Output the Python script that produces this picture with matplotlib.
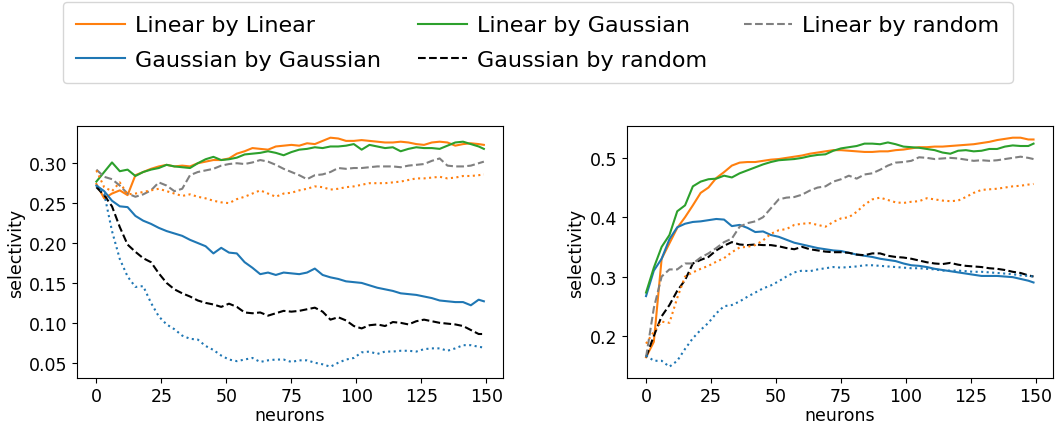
import numpy as np
import matplotlib
matplotlib.use('Agg')
from matplotlib import pyplot as plt

# neuron counts sampled every 3 neurons, last one at 149
neurons = list(range(0, 150, 3)) + [149]

# ---- left panel ----
left_lin_lin = [0.274, 0.256, 0.262, 0.266, 0.260, 0.285, 0.289, 0.293, 0.296, 0.298,
                0.296, 0.297, 0.296, 0.300, 0.302, 0.304, 0.304, 0.306, 0.312, 0.315,
                0.319, 0.318, 0.317, 0.321, 0.322, 0.323, 0.322, 0.325, 0.324, 0.328,
                0.332, 0.331, 0.328, 0.328, 0.329, 0.328, 0.327, 0.326, 0.326, 0.327,
                0.326, 0.324, 0.323, 0.326, 0.327, 0.326, 0.322, 0.324, 0.325, 0.324,
                0.323]
left_gau_gau = [0.272, 0.265, 0.253, 0.246, 0.245, 0.234, 0.228, 0.224, 0.219, 0.215,
                0.212, 0.209, 0.204, 0.200, 0.196, 0.187, 0.194, 0.188, 0.187, 0.176,
                0.169, 0.161, 0.163, 0.160, 0.163, 0.162, 0.161, 0.163, 0.168, 0.160,
                0.157, 0.155, 0.152, 0.151, 0.150, 0.147, 0.144, 0.142, 0.140, 0.137,
                0.136, 0.135, 0.133, 0.131, 0.128, 0.127, 0.126, 0.126, 0.122, 0.129,
                0.127]
left_lin_gau = [0.277, 0.289, 0.301, 0.290, 0.292, 0.284, 0.289, 0.292, 0.294, 0.298,
                0.296, 0.295, 0.294, 0.300, 0.305, 0.308, 0.304, 0.305, 0.307, 0.311,
                0.312, 0.313, 0.315, 0.313, 0.310, 0.314, 0.317, 0.318, 0.320, 0.319,
                0.321, 0.321, 0.322, 0.324, 0.317, 0.323, 0.321, 0.319, 0.320, 0.315,
                0.318, 0.320, 0.319, 0.319, 0.318, 0.322, 0.326, 0.327, 0.324, 0.321,
                0.318]
left_gau_rnd = [0.270, 0.260, 0.246, 0.220, 0.198, 0.189, 0.181, 0.176, 0.162, 0.150,
                0.142, 0.137, 0.133, 0.128, 0.125, 0.123, 0.120, 0.124, 0.120, 0.113,
                0.112, 0.113, 0.109, 0.112, 0.115, 0.114, 0.115, 0.117, 0.119, 0.114,
                0.104, 0.107, 0.103, 0.096, 0.093, 0.097, 0.098, 0.096, 0.101, 0.100,
                0.098, 0.102, 0.104, 0.102, 0.100, 0.099, 0.098, 0.096, 0.091, 0.086,
                0.086]
left_lin_rnd = [0.292, 0.283, 0.280, 0.272, 0.262, 0.258, 0.261, 0.266, 0.276, 0.272,
                0.265, 0.268, 0.285, 0.289, 0.291, 0.293, 0.297, 0.299, 0.300, 0.299,
                0.301, 0.304, 0.302, 0.298, 0.293, 0.289, 0.285, 0.280, 0.285, 0.286,
                0.289, 0.294, 0.293, 0.294, 0.294, 0.295, 0.296, 0.296, 0.296, 0.295,
                0.297, 0.298, 0.299, 0.303, 0.306, 0.297, 0.296, 0.296, 0.297, 0.300,
                0.302]
left_lin_dot = [0.291, 0.270, 0.265, 0.276, 0.261, 0.262, 0.264, 0.266, 0.268, 0.265,
                0.262, 0.259, 0.261, 0.258, 0.256, 0.253, 0.251, 0.250, 0.255, 0.258,
                0.262, 0.266, 0.262, 0.258, 0.262, 0.263, 0.266, 0.268, 0.271, 0.270,
                0.267, 0.268, 0.270, 0.271, 0.273, 0.275, 0.275, 0.275, 0.276, 0.277,
                0.279, 0.281, 0.281, 0.282, 0.283, 0.281, 0.282, 0.284, 0.284, 0.285,
                0.286]
left_gau_dot = [0.272, 0.262, 0.215, 0.180, 0.158, 0.145, 0.146, 0.125, 0.108, 0.098,
                0.092, 0.084, 0.080, 0.079, 0.071, 0.066, 0.059, 0.054, 0.052, 0.054,
                0.056, 0.051, 0.053, 0.054, 0.054, 0.051, 0.053, 0.053, 0.050, 0.048,
                0.045, 0.050, 0.054, 0.056, 0.063, 0.064, 0.061, 0.064, 0.064, 0.065,
                0.065, 0.064, 0.067, 0.068, 0.068, 0.065, 0.068, 0.072, 0.072, 0.070,
                0.069]

# ---- right panel ----
right_lin_lin = [0.164, 0.190, 0.330, 0.356, 0.382, 0.400, 0.420, 0.441, 0.450, 0.466,
                 0.476, 0.487, 0.492, 0.493, 0.493, 0.495, 0.497, 0.498, 0.500, 0.502,
                 0.504, 0.507, 0.509, 0.511, 0.513, 0.513, 0.512, 0.511, 0.510, 0.510,
                 0.511, 0.511, 0.513, 0.514, 0.516, 0.518, 0.518, 0.519, 0.519, 0.520,
                 0.521, 0.522, 0.523, 0.525, 0.527, 0.530, 0.532, 0.534, 0.534, 0.531,
                 0.531]
right_gau_gau = [0.267, 0.310, 0.330, 0.363, 0.383, 0.389, 0.392, 0.393, 0.395, 0.397,
                 0.396, 0.385, 0.387, 0.382, 0.375, 0.376, 0.370, 0.367, 0.362, 0.357,
                 0.354, 0.351, 0.348, 0.346, 0.344, 0.343, 0.340, 0.337, 0.335, 0.333,
                 0.330, 0.328, 0.326, 0.322, 0.319, 0.318, 0.316, 0.313, 0.311, 0.309,
                 0.307, 0.305, 0.303, 0.301, 0.301, 0.301, 0.300, 0.299, 0.296, 0.293,
                 0.290]
right_lin_gau = [0.273, 0.315, 0.350, 0.370, 0.410, 0.420, 0.452, 0.460, 0.464, 0.465,
                 0.470, 0.467, 0.474, 0.479, 0.484, 0.489, 0.493, 0.496, 0.497, 0.498,
                 0.500, 0.503, 0.505, 0.506, 0.512, 0.516, 0.518, 0.520, 0.524, 0.524,
                 0.523, 0.526, 0.523, 0.519, 0.518, 0.517, 0.515, 0.513, 0.509, 0.507,
                 0.512, 0.513, 0.511, 0.512, 0.515, 0.515, 0.519, 0.521, 0.520, 0.520,
                 0.524]
right_gau_rnd = [0.164, 0.200, 0.233, 0.252, 0.276, 0.294, 0.322, 0.328, 0.333, 0.344,
                 0.352, 0.358, 0.354, 0.353, 0.354, 0.353, 0.353, 0.351, 0.348, 0.346,
                 0.350, 0.346, 0.344, 0.342, 0.341, 0.341, 0.340, 0.337, 0.336, 0.339,
                 0.339, 0.335, 0.333, 0.332, 0.330, 0.327, 0.324, 0.322, 0.321, 0.323,
                 0.320, 0.318, 0.317, 0.316, 0.314, 0.313, 0.311, 0.308, 0.306, 0.302,
                 0.300]
right_lin_rnd = [0.164, 0.247, 0.300, 0.312, 0.312, 0.322, 0.322, 0.332, 0.339, 0.348,
                 0.358, 0.364, 0.384, 0.390, 0.393, 0.400, 0.415, 0.430, 0.433, 0.434,
                 0.438, 0.445, 0.450, 0.452, 0.460, 0.464, 0.470, 0.465, 0.472, 0.474,
                 0.480, 0.487, 0.492, 0.493, 0.495, 0.501, 0.500, 0.498, 0.499, 0.500,
                 0.499, 0.497, 0.495, 0.496, 0.495, 0.496, 0.498, 0.500, 0.502, 0.500,
                 0.498]
right_lin_dot = [0.187, 0.207, 0.224, 0.222, 0.264, 0.300, 0.307, 0.313, 0.318, 0.325,
                 0.331, 0.341, 0.349, 0.350, 0.353, 0.361, 0.372, 0.378, 0.380, 0.387,
                 0.389, 0.390, 0.387, 0.384, 0.392, 0.398, 0.400, 0.409, 0.421, 0.430,
                 0.433, 0.429, 0.425, 0.424, 0.426, 0.427, 0.432, 0.430, 0.428, 0.427,
                 0.428, 0.434, 0.441, 0.446, 0.447, 0.448, 0.450, 0.452, 0.453, 0.455,
                 0.456]
right_gau_dot = [0.167, 0.158, 0.158, 0.148, 0.158, 0.178, 0.196, 0.210, 0.222, 0.238,
                 0.250, 0.252, 0.258, 0.266, 0.273, 0.280, 0.285, 0.292, 0.300, 0.307,
                 0.310, 0.309, 0.312, 0.314, 0.316, 0.315, 0.316, 0.317, 0.319, 0.319,
                 0.318, 0.317, 0.316, 0.315, 0.314, 0.314, 0.313, 0.312, 0.310, 0.310,
                 0.310, 0.309, 0.308, 0.308, 0.307, 0.306, 0.305, 0.304, 0.302, 0.301,
                 0.300]

labels = ['Linear by Linear', 'Gaussian by Gaussian', 'Linear by Gaussian',
          'Gaussian by random', 'Linear by random']

panels = [
    (left_lin_lin, left_gau_gau, left_lin_gau, left_gau_rnd, left_lin_rnd,
     left_lin_dot, left_gau_dot),
    (right_lin_lin, right_gau_gau, right_lin_gau, right_gau_rnd, right_lin_rnd,
     right_lin_dot, right_gau_dot),
]

plt.rcParams['font.size'] = 12.5

fig = plt.figure(figsize=(10.55, 4.27), dpi=100)
ax_l = fig.add_axes([0.073, 0.112, 0.404, 0.590])
ax_r = fig.add_axes([0.594, 0.112, 0.404, 0.590])

for ax, series in zip([ax_l, ax_r], panels):
    ll, gg, lg, gr, lr, ld, gd = series
    ax.plot(neurons, ll, color='C1', label=labels[0])
    ax.plot(neurons, gg, color='C0', label=labels[1])
    ax.plot(neurons, lg, color='C2', label=labels[2])
    ax.plot(neurons, gr, 'k--', label=labels[3])
    ax.plot(neurons, lr, '--', color='grey', label=labels[4])
    ax.plot(neurons, ld, ':', color='C1')
    ax.plot(neurons, gd, ':', color='C0')
    ax.set_xlabel('neurons', labelpad=1)
    ax.set_ylabel('selectivity', labelpad=3)
    ax.tick_params(axis='x', pad=2.5)
    ax.set_xticks([0, 25, 50, 75, 100, 125, 150])

ax_l.set_yticks([0.05, 0.10, 0.15, 0.20, 0.25, 0.30])
ax_l.set_yticklabels(['0.05', '0.10', '0.15', '0.20', '0.25', '0.30'])
ax_r.set_yticks([0.2, 0.3, 0.4, 0.5])

handles, labs = ax_l.get_legend_handles_labels()
fig.legend(handles, labs, loc='upper left', bbox_to_anchor=(0.0597, 0.993),
           borderaxespad=0, ncol=3, fontsize=16, frameon=True,
           handlelength=2.2, handletextpad=0.45, labelspacing=0.65,
           columnspacing=1.65, borderpad=0.6)

plt.savefig('out.png', dpi=100)
